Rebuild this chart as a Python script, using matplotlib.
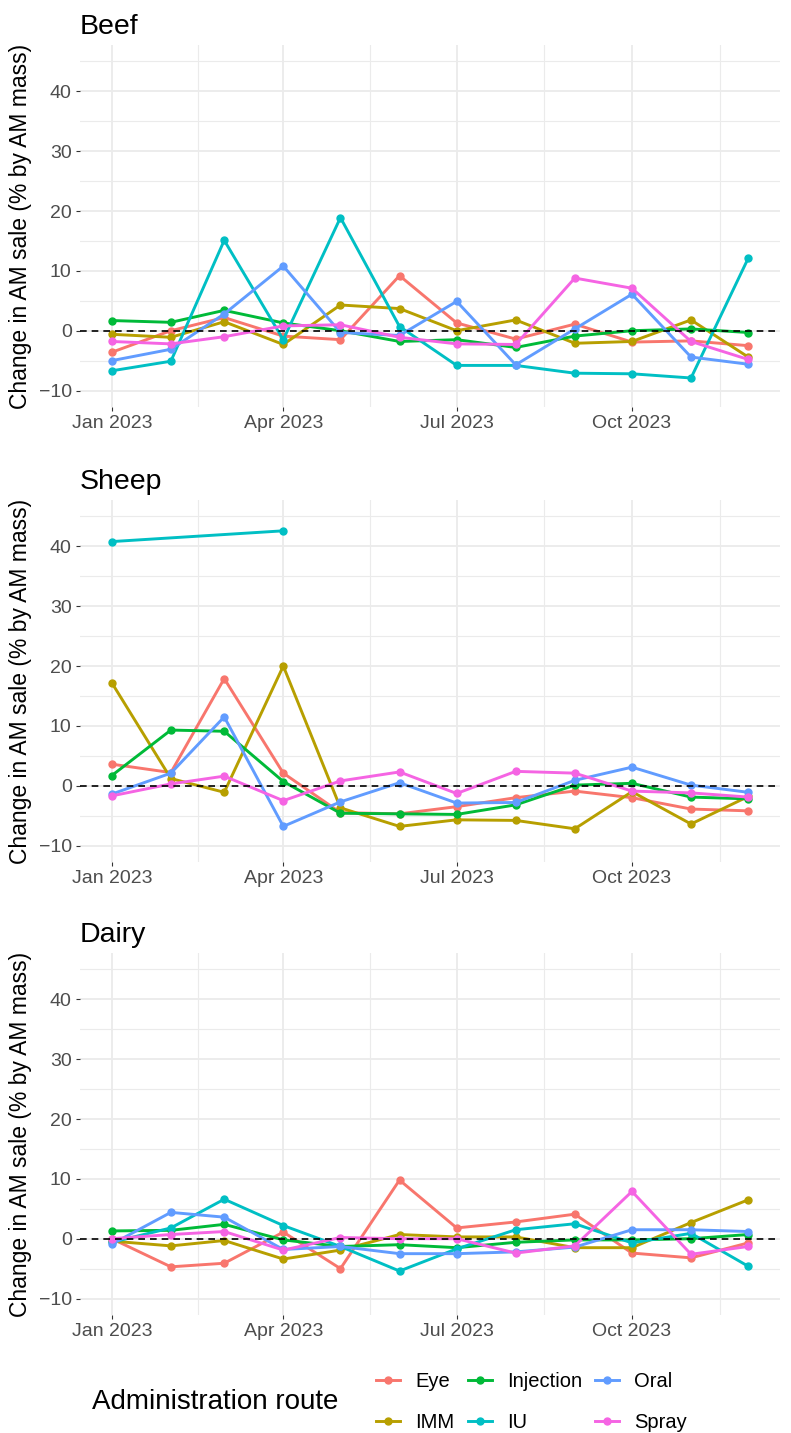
import numpy as np
import pandas as pd
import matplotlib
matplotlib.use("Agg")
import matplotlib.pyplot as plt
import matplotlib.dates as mdates
from matplotlib.lines import Line2D

plt.rcParams["font.family"] = ["Liberation Sans", "DejaVu Sans"]

# ---------------------------------------------------------------------------
# Data (% change in AM sales by mass)
# ---------------------------------------------------------------------------
MONTHS = ["2023-01-01", "2023-02-01", "2023-03-01", "2023-04-01",
          "2023-05-01", "2023-06-01", "2023-07-01", "2023-08-01",
          "2023-09-01", "2023-10-01", "2023-11-01", "2023-12-01"]

ROUTES = ["Eye", "IMM", "Injection", "IU", "Oral", "Spray"]
ROUTE_COLORS = ["#F8766D", "#B79F00", "#00BA38", "#00BFC4", "#619CFF", "#F564E3"]
SPECIES = ["Beef", "Sheep", "Dairy"]

beef_eye = [-3.6, 0.0, 2.2, -0.9, -1.5, 9.2, 1.3, -1.4, 1.1, -1.9, -1.7, -2.5]
beef_imm = [-0.6, -1.1, 1.5, -2.3, 4.3, 3.7, 0.0, 1.8, -2.1, -1.8, 1.8, -4.4]
beef_injection = [1.7, 1.4, 3.4, 1.3, 0.0, -1.8, -1.5, -2.8, -0.9, 0.0, 0.3, -0.3]
beef_iu = [-6.7, -5.1, 15.1, -1.5, 18.9, 0.7, -5.8, -5.8, -7.1, -7.2, -7.9, 12.1]
beef_oral = [-5.0, -3.1, 2.8, 10.8, -0.3, -0.8, 4.9, -5.7, 0.3, 6.1, -4.4, -5.6]
beef_spray = [-1.8, -2.2, -1.0, 0.8, 1.0, -1.1, -2.2, -2.3, 8.8, 7.1, -1.8, -4.8]

sheep_eye = [3.6, 2.2, 17.9, 2.1, -4.5, -4.7, -3.5, -2.0, -0.9, -2.0, -3.9, -4.2]
sheep_imm = [17.2, 1.2, -1.1, 20.0, -3.7, -6.8, -5.7, -5.8, -7.2, -1.0, -6.4, -1.8]
sheep_injection = [1.7, 9.3, 9.1, 0.7, -4.6, -4.7, -4.8, -3.2, 0.1, 0.4, -1.9, -2.2]
sheep_iu = [40.8, np.nan, np.nan, 42.6, np.nan, np.nan, np.nan, np.nan,
            np.nan, np.nan, np.nan, np.nan]
sheep_oral = [-1.4, 2.1, 11.5, -6.8, -2.7, 0.5, -2.9, -2.8, 0.9, 3.1, 0.1, -1.1]
sheep_spray = [-1.7, 0.3, 1.6, -2.5, 0.8, 2.3, -1.3, 2.4, 2.1, -0.9, -1.2, -1.9]

dairy_eye = [0.0, -4.7, -4.1, 1.1, -5.0, 9.8, 1.8, 2.8, 4.1, -2.4, -3.2, -0.7]
dairy_imm = [-0.4, -1.2, -0.3, -3.4, -1.9, 0.7, 0.3, 0.3, -1.5, -1.5, 2.7, 6.5]
dairy_injection = [1.3, 1.4, 2.4, -0.2, -1.3, -1.0, -1.5, -0.6, -0.2, -0.2, 0.0, 0.7]
dairy_iu = [-0.6, 1.8, 6.6, 2.2, -1.3, -5.4, -1.7, 1.5, 2.5, -0.7, 0.9, -4.6]
dairy_oral = [-0.9, 4.4, 3.6, -1.8, -1.3, -2.5, -2.5, -2.2, -1.4, 1.5, 1.5, 1.2]
dairy_spray = [0.0, 0.7, 1.2, -1.9, 0.2, 0.0, 0.0, -2.4, -1.2, 7.9, -2.6, -1.3]

SERIES = {
    "Beef": [beef_eye, beef_imm, beef_injection, beef_iu, beef_oral, beef_spray],
    "Sheep": [sheep_eye, sheep_imm, sheep_injection, sheep_iu, sheep_oral, sheep_spray],
    "Dairy": [dairy_eye, dairy_imm, dairy_injection, dairy_iu, dairy_oral, dairy_spray],
}

Y_LIMITS = (-10, 45)
Y_MAJOR = [-10, 0, 10, 20, 30, 40]
Y_MINOR = [-5, 5, 15, 25, 35, 45]
X_MAJOR = ["2023-01-01", "2023-04-01", "2023-07-01", "2023-10-01", "2024-01-01"]

GRID_COLOR = "#EBEBEB"
TEXT_GREY = "#4D4D4D"


def _style_axis(ax, dates):
    """Give an axis the ggplot theme_minimal look."""
    major = mdates.date2num(pd.to_datetime(X_MAJOR))
    minor = (major[:-1] + major[1:]) / 2.0

    # ggplot-style 5% expansion around the data / limits
    x0, x1 = dates.min(), dates.max()
    pad = 0.05 * (x1 - x0)
    ax.set_xlim(x0 - pad, x1 + pad)
    ypad = 0.05 * (Y_LIMITS[1] - Y_LIMITS[0])
    ax.set_ylim(Y_LIMITS[0] - ypad, Y_LIMITS[1] + ypad)

    for x in minor:
        ax.axvline(x, color=GRID_COLOR, lw=0.8, zorder=0)
    for x in major:
        ax.axvline(x, color=GRID_COLOR, lw=1.3, zorder=0)
    for y in Y_MINOR:
        ax.axhline(y, color=GRID_COLOR, lw=0.8, zorder=0)
    for y in Y_MAJOR:
        ax.axhline(y, color=GRID_COLOR, lw=1.3, zorder=0)

    ax.set_xticks(major[:-1])
    ax.xaxis.set_major_formatter(mdates.DateFormatter("%b %Y"))
    ax.set_yticks(Y_MAJOR)
    ax.tick_params(axis="both", colors="#333333", labelcolor=TEXT_GREY,
                   labelsize=14, length=3, width=0.8, pad=3)
    for spine in ax.spines.values():
        spine.set_visible(False)


def main():
    dates = mdates.date2num(pd.to_datetime(MONTHS))

    fig = plt.figure(figsize=(7.91, 14.33), dpi=100)

    left, width, height = 80 / 791, 700 / 791, 362 / 1433
    bottoms_px = [407, 862, 1315]  # bottom edge of each panel, from top

    for species, bottom_px in zip(SPECIES, bottoms_px):
        ax = fig.add_axes([left, 1 - bottom_px / 1433, width, height])
        _style_axis(ax, dates)

        for values, color in zip(SERIES[species], ROUTE_COLORS):
            s = pd.Series(values, index=dates).dropna()
            ax.plot(s.index, s.values, color=color, lw=2.1,
                    marker="o", markersize=5, zorder=3)

        ax.axhline(0, color="black", lw=1.2, ls=(0, (4, 3)), zorder=4)

        ax.set_title(species, loc="left", fontsize=20.5, pad=8, x=0.0)
        ax.set_ylabel("Change in AM sale (% by AM mass)", fontsize=16.5,
                      labelpad=5)

    # Legend below the panels, title to the left
    handles = [Line2D([0], [0], color=c, lw=2.1, marker="o", markersize=5)
               for c in ROUTE_COLORS]
    fig.legend(handles, ROUTES, ncol=3, loc="center left",
               bbox_to_anchor=(358 / 791, 1 - 1402 / 1433), frameon=False,
               fontsize=14.5, handlelength=1.2, columnspacing=0.65,
               labelspacing=1.05, handletextpad=0.75)
    fig.text(92 / 791, 1 - 1402 / 1433, "Administration route",
             fontsize=20, va="center", ha="left")

    fig.savefig("out.png", dpi=100)
    plt.close(fig)


if __name__ == "__main__":
    main()
